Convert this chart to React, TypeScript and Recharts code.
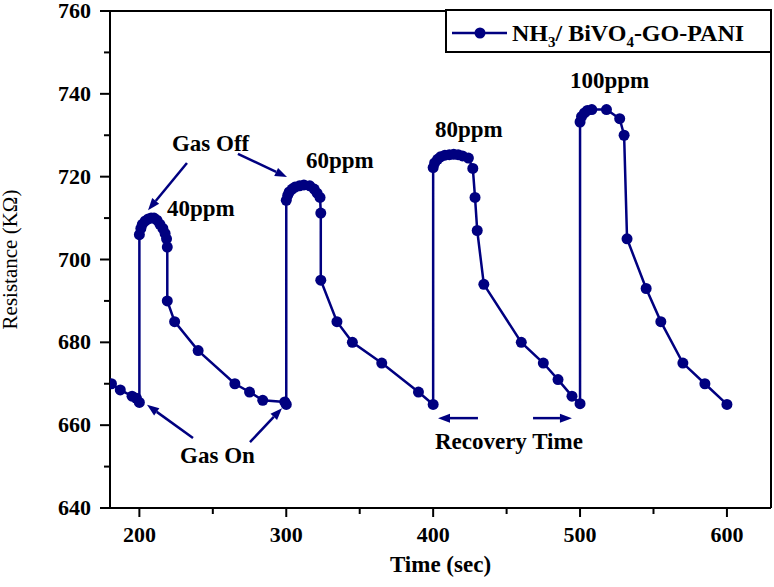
import { LineChart, Line, XAxis, YAxis, ReferenceLine, ReferenceDot } from "recharts";

const NAVY = "#000080";
const FONT = "'Liberation Serif', 'Times New Roman', serif";

// time (sec) and resistance (KΩ)
const timeSec = [
  181, 187, 195, 198, 200, 200, 201, 202, 204, 206, 208, 210, 212, 214, 216, 217.5, 218.5, 219, 219, 224, 240, 265, 275, 284, 299, 300,
  300, 301, 302, 304, 306, 309, 312, 316, 319, 321, 323, 323.5, 323.5, 334.5, 345, 365, 390, 400,
  400, 401, 403, 405, 408, 411, 414, 417, 420, 424, 427, 428.5, 430, 434.5, 460, 475, 485, 494.5, 500,
  500, 501, 503, 505, 508, 518, 527, 530, 532, 545, 555, 570, 585, 600,
];
const resistance = [
  670, 668.5, 667, 666.5, 665.5, 706, 707.5, 708.5, 709.3, 709.8, 710, 710, 709.5, 708.5, 707.5, 706.3, 705, 703, 690, 685, 678, 670, 668, 666, 665.6, 665,
  714.3, 715.5, 716.3, 717, 717.5, 717.8, 718, 717.8, 717, 716, 715, 711.2, 695, 685, 680, 675, 668, 665,
  722.2, 723.3, 724.2, 724.8, 725.2, 725.3, 725.4, 725.3, 725, 724.5, 722, 715, 707, 694, 680, 675, 671, 667, 665.2,
  733.2, 734.5, 735.4, 736, 736.2, 736.2, 734, 730, 705, 693, 685, 675, 670, 665,
];

const xTicks = [200, 250, 300, 350, 400, 450, 500, 550, 600];
const yTicks = [640, 650, 660, 670, 680, 690, 700, 710, 720, 730, 740, 750, 760];

const noteText = ["Gas Off", "40ppm", "60ppm", "80ppm", "100ppm", "Gas On", "Recovery Time"];
const noteX = [222.2, 218.8, 313.4, 401.2, 493.1, 227.7, 401.2];
const noteY = [726.2, 710.5, 722.1, 729.6, 741.4, 650.9, 654.2];

const arrowFrom = [
  [232.4, 723.3], [267.1, 725.5], [236.5, 656.9], [275.3, 655.9], [430.5, 661.7], [468, 661.7],
];
const arrowTo = [
  [205.9, 711.9], [300.5, 719.9], [205.2, 664.9], [297.1, 664.1], [403.3, 661.7], [494.5, 661.7],
];

const data = timeSec.map((t, i) => ({ t, r: resistance[i] }));

const XTick = (p: any) => {
  const v = p.payload.value;
  const major = v % 100 === 0;
  return (
    <g>
      <line x1={p.x} y1={p.y} x2={p.x} y2={p.y + (major ? 9 : 6)} stroke="#000" strokeWidth={2} />
      {major && (
        <text x={p.x} y={p.y + 34} textAnchor="middle" fontFamily={FONT} fontWeight="bold" fontSize={22} fill="#000">
          {v}
        </text>
      )}
    </g>
  );
};

const YTick = (p: any) => {
  const v = p.payload.value;
  const major = v % 20 === 0;
  return (
    <g>
      <line x1={p.x} y1={p.y} x2={p.x - (major ? 10 : 6)} y2={p.y} stroke="#000" strokeWidth={2} />
      {major && (
        <text x={p.x - 19} y={p.y + 7} textAnchor="end" fontFamily={FONT} fontWeight="bold" fontSize={22} fill="#000">
          {v}
        </text>
      )}
    </g>
  );
};

const YTitle = (p: any) => {
  const vb = p.viewBox || { x: 0, y: 11, width: 110, height: 497 };
  const cx = vb.x + 17;
  const cy = vb.y + vb.height / 2;
  return (
    <text
      x={cx}
      y={cy}
      transform={`rotate(-90 ${cx} ${cy})`}
      textAnchor="middle"
      fontFamily={FONT}
      fontSize={21}
      fill="#000"
    >
      Resistance (KΩ)
    </text>
  );
};

const Arrow = (p: any) => {
  const { x1, y1, x2, y2 } = p;
  const a = Math.atan2(y2 - y1, x2 - x1);
  const len = 12;
  const w = 4.5;
  const bx = x2 - len * Math.cos(a);
  const by = y2 - len * Math.sin(a);
  const pts = [
    [x2, y2],
    [bx + w * Math.sin(a), by - w * Math.cos(a)],
    [bx - w * Math.sin(a), by + w * Math.cos(a)],
  ]
    .map((q) => q.join(","))
    .join(" ");
  return (
    <g>
      <line x1={x1} y1={y1} x2={bx} y2={by} stroke={NAVY} strokeWidth={2.5} />
      <polygon points={pts} fill={NAVY} />
    </g>
  );
};

export default function App() {
  return (
    <div style={{ position: "absolute", left: 0, top: 0, width: 774, height: 587, background: "#fff" }}>
      <LineChart width={774} height={587} data={data} margin={{ top: 11, right: 3, bottom: 0, left: 0 }}>
        <XAxis
          type="number"
          dataKey="t"
          domain={[180, 630]}
          ticks={xTicks}
          interval={0}
          allowDataOverflow
          height={79}
          tickSize={0}
          tickMargin={0}
          tick={<XTick />}
          axisLine={{ stroke: "#000", strokeWidth: 2 }}
          label={{
            value: "Time (sec)",
            position: "insideBottom",
            offset: 15,
            style: { fontFamily: FONT, fontWeight: "bold", fontSize: 23, fill: "#000" },
          }}
        />
        <YAxis
          type="number"
          domain={[640, 760]}
          ticks={yTicks}
          interval={0}
          width={110}
          tickSize={0}
          tickMargin={0}
          tick={<YTick />}
          axisLine={{ stroke: "#000", strokeWidth: 2 }}
          label={<YTitle />}
        />
        <ReferenceLine y={760} stroke="#000" strokeWidth={2} ifOverflow="visible" />
        <ReferenceLine x={630} stroke="#000" strokeWidth={2} ifOverflow="visible" />
        {arrowFrom.map((f, i) => (
          <ReferenceLine
            key={"a" + i}
            segment={[
              { x: f[0], y: f[1] },
              { x: arrowTo[i][0], y: arrowTo[i][1] },
            ]}
            ifOverflow="visible"
            shape={<Arrow />}
          />
        ))}
        <Line
          type="linear"
          dataKey="r"
          name="NH3/ BiVO4-GO-PANI"
          stroke={NAVY}
          strokeWidth={2.5}
          dot={{ r: 5.5, fill: NAVY, stroke: NAVY, strokeWidth: 0 }}
          isAnimationActive={false}
        />
        {noteText.map((s, i) => (
          <ReferenceDot
            key={"n" + i}
            x={noteX[i]}
            y={noteY[i]}
            r={0}
            ifOverflow="visible"
            shape={(p: any) => (
              <text x={p.cx} y={p.cy} fontFamily={FONT} fontWeight="bold" fontSize={23} fill="#000">
                {s}
              </text>
            )}
          />
        ))}
      </LineChart>
      <div
        style={{
          position: "absolute",
          left: 445,
          top: 9,
          width: 327,
          height: 44,
          boxSizing: "border-box",
          border: "2px solid #000",
          background: "#fff",
        }}
      >
        <svg width={323} height={40} style={{ display: "block" }}>
          <line x1={5} y1={22} x2={60} y2={22} stroke={NAVY} strokeWidth={2.5} />
          <circle cx={33} cy={22} r={5.5} fill={NAVY} />
          <text x={65} y={30} fontFamily={FONT} fontWeight="bold" fontSize={24} fill="#000">
            NH
            <tspan fontSize={15} dy={6}>3</tspan>
            <tspan dy={-6}>/ BiVO</tspan>
            <tspan fontSize={15} dy={6}>4</tspan>
            <tspan dy={-6}>-GO-PANI</tspan>
          </text>
        </svg>
      </div>
    </div>
  );
}
